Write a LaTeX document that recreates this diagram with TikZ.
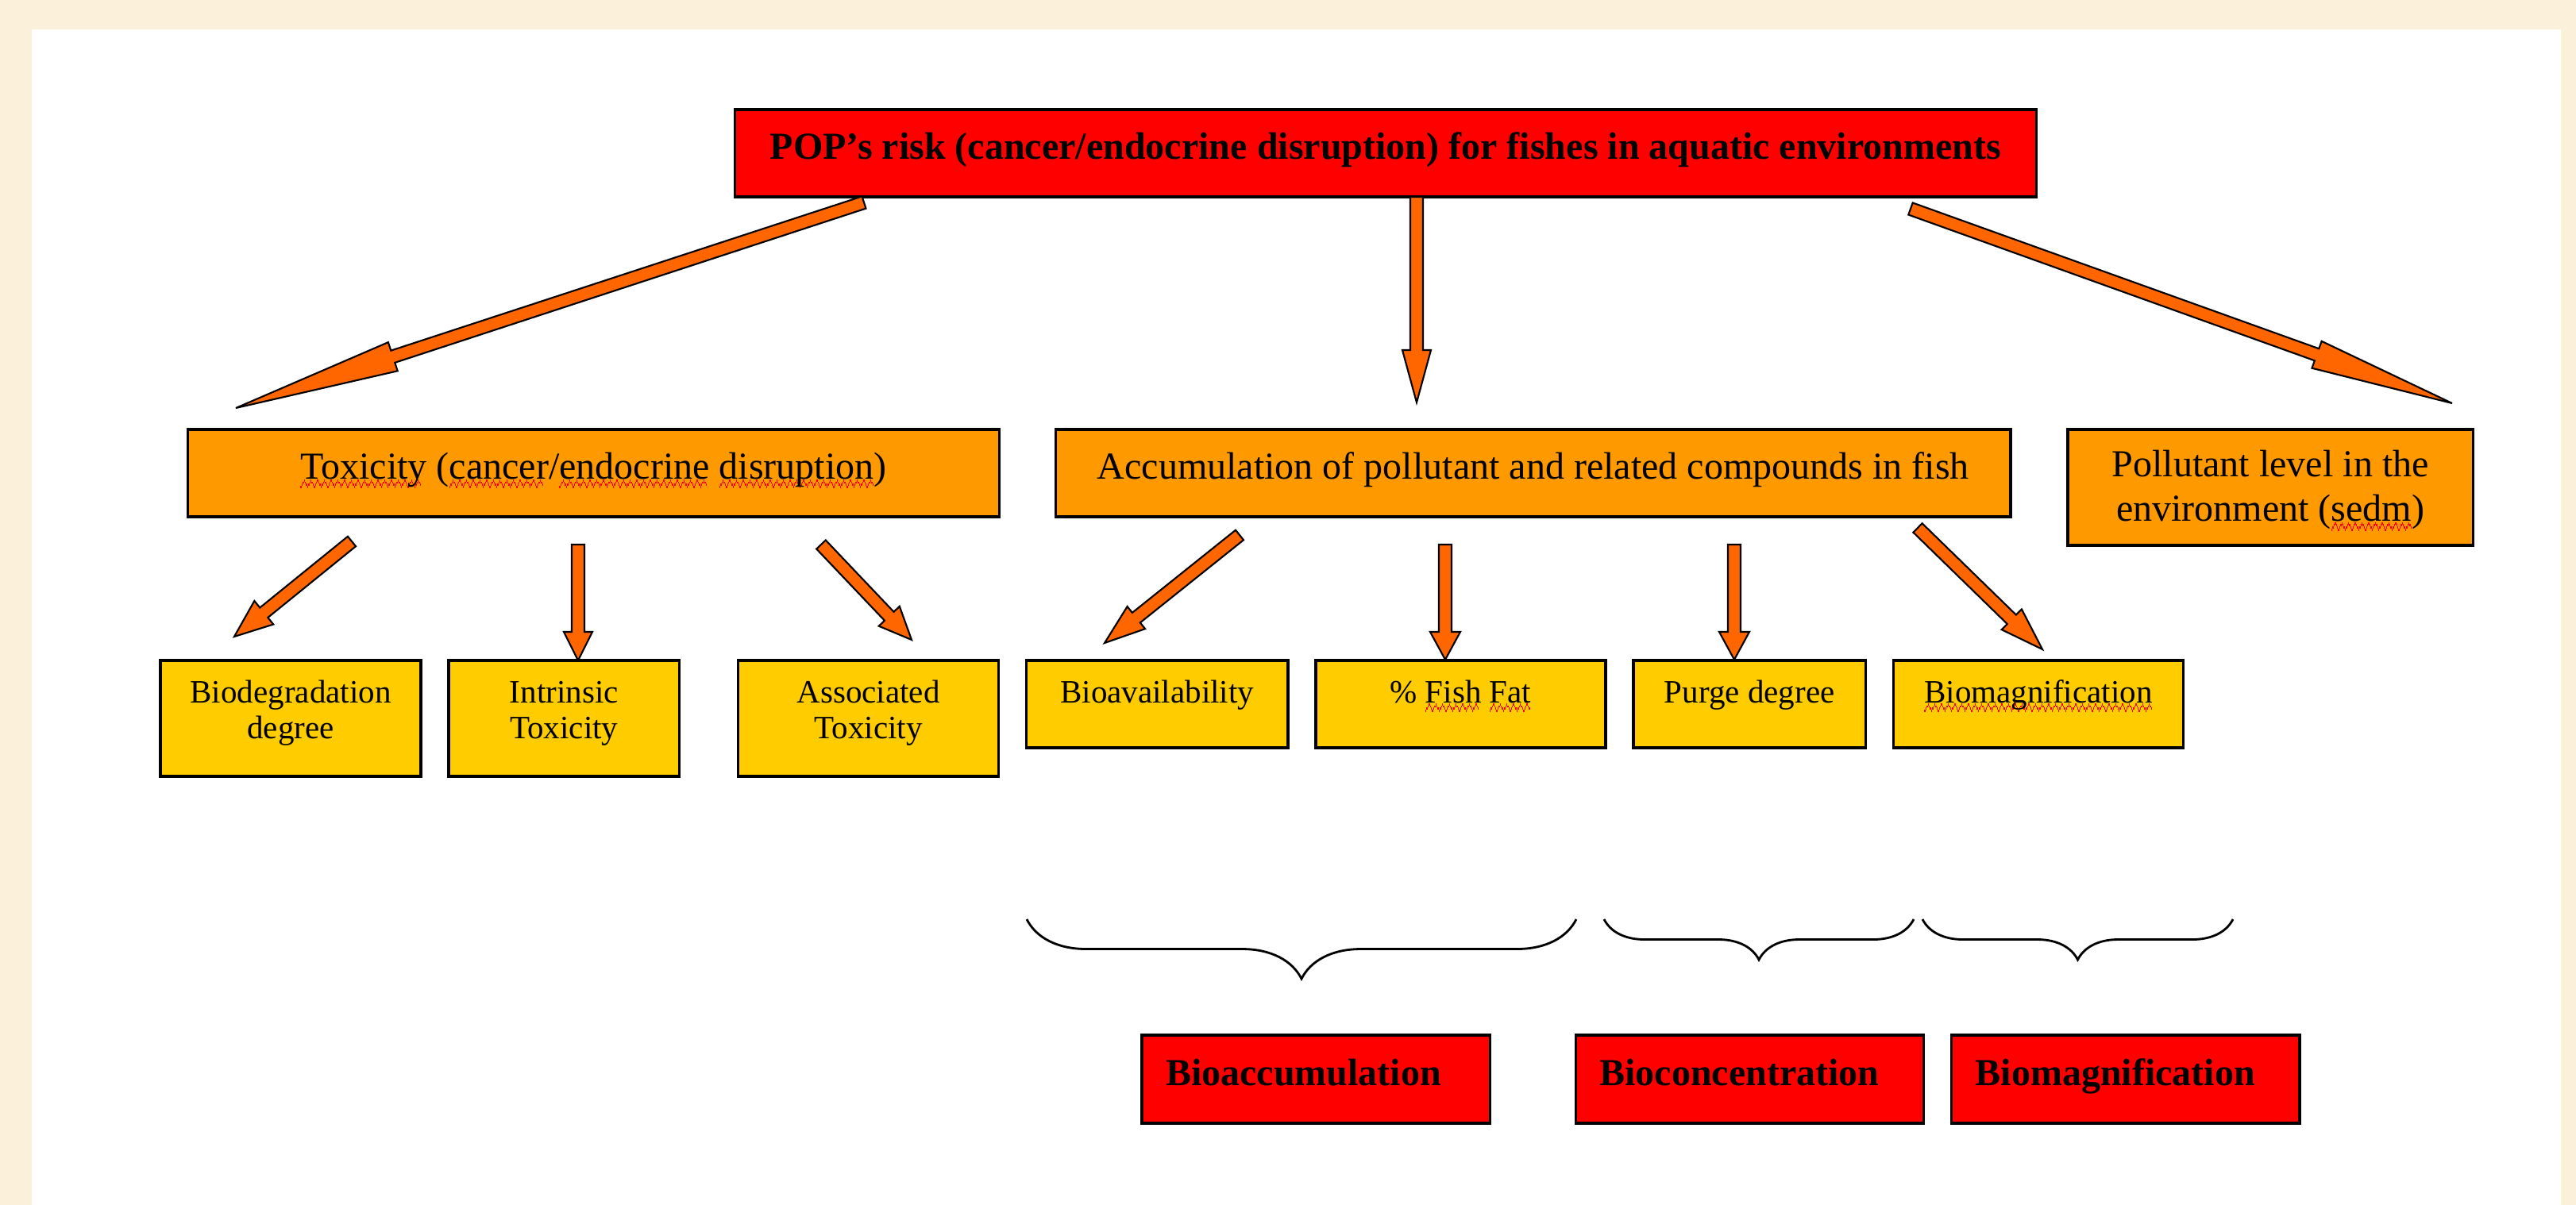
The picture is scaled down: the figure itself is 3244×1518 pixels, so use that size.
\documentclass[tikz,border=0pt]{standalone}
\usepackage{fontspec}
\setmainfont{Liberation Serif}
\usetikzlibrary{positioning,calc,decorations.pathreplacing}

\definecolor{popred}{HTML}{FF0000}
\definecolor{boxorange}{HTML}{FF9900}
\definecolor{leafyellow}{HTML}{FFCC00}
\definecolor{arroworange}{HTML}{FF6600}
\definecolor{paper}{HTML}{FBF0D9}

% red wavy underline of the spell checker
\newcommand{\wavebit}{\rule[-3.4pt]{0.4pt}{0.8pt}\rule[-2.6pt]{0.4pt}{0.8pt}%
  \rule[-1.8pt]{0.4pt}{0.8pt}\rule[-1.1pt]{0.4pt}{0.8pt}%
  \rule[-1.8pt]{0.4pt}{0.8pt}\rule[-2.6pt]{0.4pt}{0.8pt}}
\newcommand{\squig}[1]{\setbox0\hbox{#1}%
  \rlap{\color{red}\hbox to\wd0{\leaders\hbox{\wavebit}\hfill}}\box0\relax}
% block arrow: tail, tip, shaft half width, head half width, head length
\newcommand{\blockarrow}[5]{%
  \coordinate (#2-base) at ($(#2)!#5!(#1)$);
  \filldraw[fatarrow] ($(#1)!#3!90:(#2)$) -- ($(#2-base)!#3!90:(#2)$)
    -- ($(#2-base)!#4!90:(#2)$) -- (#2) -- ($(#2-base)!#4!-90:(#2)$)
    -- ($(#2-base)!#3!-90:(#2)$) -- ($(#1)!#3!-90:(#2)$) -- cycle;}

\begin{document}
\begin{tikzpicture}[x=0.01cm,y=-0.01cm,node distance=0.35cm]
    \tikzset{box/.style={draw,line width=1pt,inner sep=0pt,outer sep=0pt,align=flush center},
      big/.style={font=\fontsize{13.66pt}{16.2pt}\selectfont},
      bigbold/.style={font=\fontsize{13.66pt}{16.2pt}\selectfont\bfseries},
      small/.style={font=\fontsize{11.67pt}{12.8pt}\selectfont},
      oneline/.style={text height=0.32cm,text depth=0.18cm},
      root/.style={box,bigbold,oneline,fill=popred,minimum height=1.10cm},
      branch/.style={box,big,fill=boxorange,minimum height=1.10cm},
      leaf/.style={box,small,fill=leafyellow,minimum height=1.46cm,text height=0.27cm,text depth=0.67cm},
      leafone/.style={box,small,fill=leafyellow,minimum height=1.10cm,text height=0.27cm,text depth=0.31cm},
      result/.style={box,bigbold,fill=popred,text width=3.78cm,align=left,
        inner xsep=0.30cm,minimum height=1.11cm,text height=0.32cm,text depth=0.17cm},
      fatarrow/.style={fill=arroworange,draw=black,line width=0.6pt,line join=miter},
      curly/.style={decorate,line width=0.8pt}}
    \fill[paper] (0,0) rectangle (3244,1518);
    \fill[white] (40,37) rectangle (3225,1518);
    \useasboundingbox (0,0) rectangle (3244,1518);

    \node[root,minimum width=16.38cm] (risk) at (1745,193)
      {POP’s risk (cancer/endocrine disruption) for fishes in aquatic environments};

    \node[branch,oneline,minimum width=10.21cm] (tox) at (747.5,596)
      {\squig{Toxicity} (\squig{cancer}/\squig{endocrine} \squig{disruption})};
    \node[branch,oneline,minimum width=12.02cm] (acc) [right=0.71cm of tox]
      {Accumulation of pollutant and related compounds in fish};
    \node[branch,text width=5.10cm,minimum height=1.46cm,text height=0.32cm,text depth=0.60cm,
      anchor=north west] (env) at ([xshift=0.72cm]acc.north east)
      {Pollutant level in the\\environment (\squig{sedm})};

    \node[leaf,text width=3.28cm,anchor=north west] (biodeg) at (202,832) {Biodegradation\\degree};
    \node[leaf,text width=2.90cm] (intr) [right=of biodeg] {Intrinsic\\Toxicity};
    \node[leaf,text width=3.28cm] (assoc) [right=0.74cm of intr] {Associated\\Toxicity};
    \node[leafone,minimum width=3.29cm,anchor=north west] (bioav)
      at ([xshift=0.35cm]assoc.north east) {Bioavailability};
    \node[leafone,minimum width=3.65cm] (fat) [right=of bioav] {\% \squig{Fish} \squig{Fat}};
    \node[leafone,minimum width=2.92cm] (purge) [right=of fat] {Purge degree};
    \node[leafone,minimum width=3.65cm] (biomag) [right=of purge] {\squig{Biomagnification}};

    \coordinate (b1l) at (1293,1158); \coordinate (b1r) at (1985,1158);
    \coordinate (b2l) at (2020,1158); \coordinate (b2r) at (2410,1158);
    \coordinate (b3l) at (2421,1158); \coordinate (b3r) at (2812,1158);
    \draw[curly,decoration={brace,mirror,amplitude=0.75cm}] (b1l) -- (b1r);
    \draw[curly,decoration={brace,mirror,amplitude=0.51cm}] (b2l) -- (b2r);
    \draw[curly,decoration={brace,mirror,amplitude=0.51cm}] (b3l) -- (b3r);

    \node[result,anchor=north west] (bioacc) at (1438,1304) {Bioaccumulation};
    \node[result] (biocon) [right=1.08cm of bioacc] {Bioconcentration};
    \node[result] (biomagn) [right=of biocon] {Biomagnification};

    % arrows: tails and tips
    \coordinate (a1t) at (1088,255); \coordinate (a1h) at (297,514);
    \coordinate (a2t) at (1784,248); \coordinate (a2h) at (1784,507);
    \coordinate (a3t) at (2406,263); \coordinate (a3h) at (3088,508);
    \coordinate (a4t) at (443,682);  \coordinate (a4h) at (295,802);
    \coordinate (a5t) at (728,686);  \coordinate (a5h) at (728,832);
    \coordinate (a6t) at (1034,686); \coordinate (a6h) at (1148,806);
    \coordinate (a7t) at (1561,674); \coordinate (a7h) at (1391,810);
    \coordinate (a8t) at (1820,686); \coordinate (a8h) at (1820,831);
    \coordinate (a9t) at (2184,686); \coordinate (a9h) at (2184,831);
    \coordinate (a10t) at (2415,665); \coordinate (a10h) at (2572,818);
    \foreach \a/\hw/\hl in {a1/0.19cm/2.08cm, a2/0.18cm/0.66cm, a3/0.18cm/1.81cm,
        a4/0.19cm/0.48cm, a5/0.18cm/0.36cm, a6/0.18cm/0.41cm, a7/0.18cm/0.51cm,
        a8/0.19cm/0.35cm, a9/0.19cm/0.35cm, a10/0.18cm/0.54cm}
      \blockarrow{\a t}{\a h}{0.08cm}{\hw}{\hl};
\end{tikzpicture}
\end{document}
